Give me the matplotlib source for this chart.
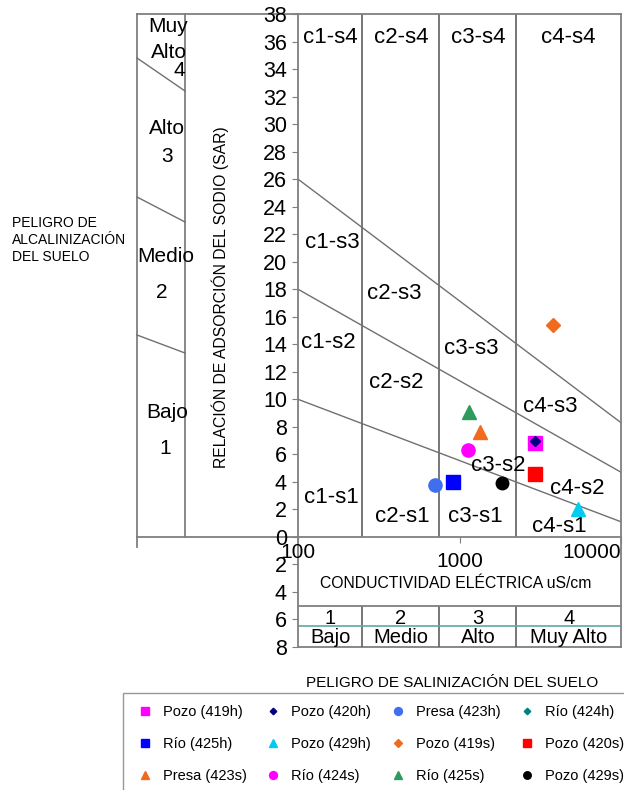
import matplotlib.pyplot as plt

plt.rcParams['font.family'] = ['Liberation Sans', 'DejaVu Sans']

# muestras (CE en uS/cm, SAR)
muestras = ["Pozo (419h)", "Pozo (420h)", "Presa (423h)", "Río (424h)",
            "Río (425h)", "Pozo (429h)", "Pozo (419s)", "Pozo (420s)",
            "Presa (423s)", "Río (424s)", "Río (425s)", "Pozo (429s)"]
ce = [2935, 2935, 705, 2935, 915, 5440, 3776, 2935, 1345, 1133, 1145, 1825]
sar = [6.85, 7.0, 3.8, 6.9, 4.0, 2.05, 15.4, 4.6, 7.65, 6.3, 9.1, 3.95]
marcadores = ["s", "D", "o", "D", "s", "^", "D", "s", "^", "o", "^", "o"]
colores = ["#ff00ff", "#000080", "#3f6ff0", "#008080", "#0000ff", "#00ccf0",
           "#f26b1d", "#ff0000", "#f26b1d", "#ff00ff", "#2e9a5c", "#000000"]
tamanos = [9.5, 5.5, 9.5, 5.5, 10, 9.5, 7, 10, 9.5, 9.5, 9.5, 9]
capas = [4, 5, 4, 3, 4, 4, 4, 4, 4, 4, 4, 4]

# clases de salinidad
ce_limites = [250, 750, 2250]
ce_centros = [158, 433, 1299, 4743]
clases_ce = ["1", "2", "3", "4"]
nombres_ce = ["Bajo", "Medio", "Alto", "Muy Alto"]

# rectas de sodicidad
ce_rectas = [100, 10000]
s1_s2 = [10.0, 1.1]
s2_s3 = [18.0, 4.7]
s3_s4 = [26.0, 8.3]

# etiquetas de zonas (texto, CE, SAR)
zonas = [("c1-s4", 158, 36.3), ("c2-s4", 433, 36.3), ("c3-s4", 1299, 36.3),
         ("c4-s4", 4743, 36.3), ("c1-s3", 162, 21.4), ("c2-s3", 393, 17.7),
         ("c1-s2", 153, 14.1), ("c3-s3", 1178, 13.7), ("c2-s2", 404, 11.2),
         ("c4-s3", 3634, 9.5), ("c3-s2", 1730, 5.2), ("c4-s2", 5340, 3.55),
         ("c1-s1", 160, 2.85), ("c2-s1", 445, 1.45), ("c3-s1", 1247, 1.45),
         ("c4-s1", 4160, 0.75)]

W, H = 624, 790
gris = "#7f7f7f"

fig = plt.figure(figsize=(W / 100, H / 100), dpi=100)

# fondo en pixeles para el panel izquierdo
bg = fig.add_axes([0, 0, 1, 1])
bg.set_xlim(0, W)
bg.set_ylim(H, 0)
bg.axis("off")

bg.plot([137, 137], [14, 547], color=gris, lw=1.3)
bg.plot([185, 185], [14, 537], color=gris, lw=1.3)
bg.plot([137, 298], [14, 14], color=gris, lw=1.3)
bg.plot([137, 298], [537, 537], color=gris, lw=1.3)
for y0, y1 in [(58, 91), (197, 222), (335, 353)]:
    bg.plot([137, 185], [y0, y1], color="#707070", lw=1)

bg.text(188, 27, "Muy", ha="right", va="center", fontsize=15)
bg.text(187, 52, "Alto", ha="right", va="center", fontsize=15)
bg.text(185, 70, "4", ha="right", va="center", fontsize=15)
bg.text(167, 128, "Alto", ha="center", va="center", fontsize=15)
bg.text(167, 157, "3", ha="center", va="center", fontsize=15)
bg.text(166, 257, "Medio", ha="center", va="center", fontsize=15)
bg.text(162, 293, "2", ha="center", va="center", fontsize=15)
bg.text(167, 413, "Bajo", ha="center", va="center", fontsize=15)
bg.text(165, 448, "1", ha="center", va="center", fontsize=15)

bg.text(220, 297, "RELACIÓN DE ADSORCIÓN DEL SODIO (SAR)", rotation=90,
        ha="center", va="center", fontsize=11.3)
bg.text(12, 240, "PELIGRO DE\nALCALINIZACIÓN\nDEL SUELO", ha="left",
        va="center", fontsize=10, linespacing=1.3)
bg.text(452, 683, "PELIGRO DE SALINIZACIÓN DEL SUELO", ha="center",
        va="center", fontsize=11)

# diagrama principal
ax = fig.add_axes([298 / W, (H - 647) / H, 323 / W, (647 - 14) / H])
ax.set_xscale("log")
ax.set_xlim(100, 10000)
ax.set_ylim(-8, 38)
ax.patch.set_alpha(0)

for s in ax.spines.values():
    s.set_color(gris)
    s.set_linewidth(1.3)
ax.spines["bottom"].set_position(("data", 0))
ax.axhline(-8, color=gris, lw=1.3, clip_on=False)

ax.set_yticks(range(-8, 40, 2))
ax.set_yticklabels([str(abs(v)) for v in range(-8, 40, 2)], fontsize=15.5)
ax.tick_params(axis="y", direction="out", length=4, pad=4, color=gris)
ax.set_xticks([100, 1000, 10000])
ax.set_xticklabels([])
ax.minorticks_off()
ax.tick_params(axis="x", direction="out", length=4, color=gris)

ax.text(100, -1.16, "100", ha="center", va="center", fontsize=15)
ax.text(1000, -1.8, "1000", ha="center", va="center", fontsize=15)
ax.text(10000, -1.16, "10000", ha="right", va="center", fontsize=15)
ax.text(0.489, -3.35, "CONDUCTIVIDAD ELÉCTRICA uS/cm", ha="center",
        va="center", fontsize=11.3, transform=ax.get_yaxis_transform())

# lineas de clases
ax.vlines(ce_limites, 0, 38, color="#606060", lw=1.2)
ax.vlines(ce_limites, -8, -5, color="#606060", lw=1.2)
ax.hlines(-5, 100, 10000, color=gris, lw=1.3)
ax.hlines(-6.5, 100, 10000, color="#5fa8a8", lw=1.2)
for c, n, x in zip(clases_ce, nombres_ce, ce_centros):
    ax.text(x, -5.9, c, ha="center", va="center", fontsize=14.5)
    ax.text(x, -7.3, n, ha="center", va="center", fontsize=14.5)

# rectas de sodicidad
for recta in [s1_s2, s2_s3, s3_s4]:
    ax.plot(ce_rectas, recta, color="#707070", lw=1)

for txt, x, y in zonas:
    ax.text(x, y, txt, ha="center", va="center", fontsize=16)

# muestras
handles = []
for i in range(len(muestras)):
    h, = ax.plot(ce[i], sar[i], marcadores[i], color=colores[i],
                 ms=tamanos[i], ls="none", label=muestras[i], zorder=capas[i])
    handles.append(h)

orden = [0, 4, 8, 1, 5, 9, 2, 6, 10, 3, 7, 11]
fig.legend([handles[i] for i in orden], [muestras[i] for i in orden],
           ncol=4, loc="upper left", bbox_to_anchor=(123 / W, 1 - 693 / H),
           fontsize=10.5, markerscale=0.6, frameon=True, fancybox=False,
           edgecolor=gris, borderpad=0.8, handlelength=1.4,
           handletextpad=0.55, columnspacing=1.1, labelspacing=1.25,
           borderaxespad=0)

fig.savefig("out.png", dpi=100)
